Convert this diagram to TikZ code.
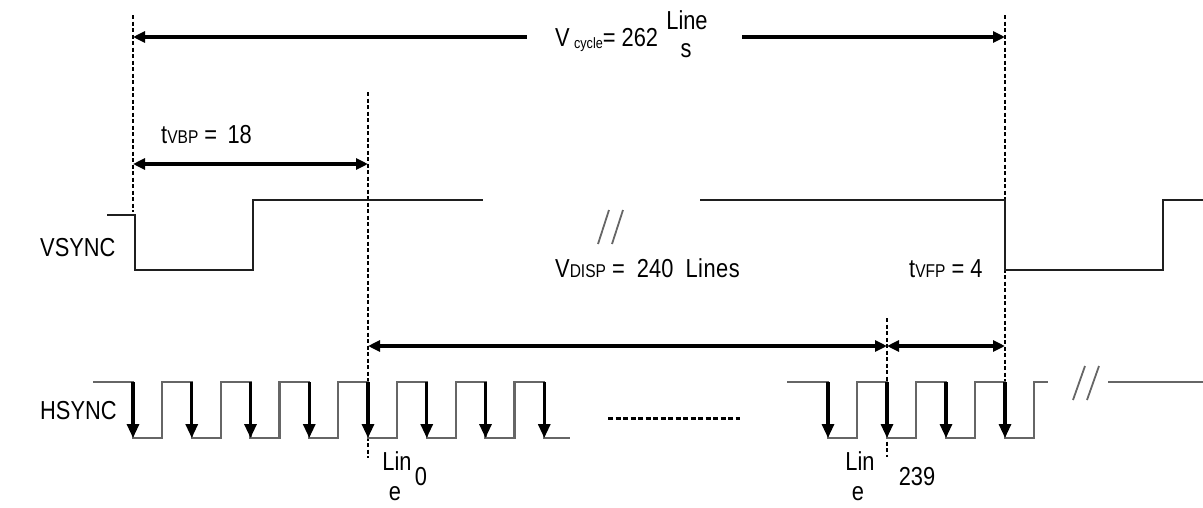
\documentclass[tikz,border=0pt]{standalone}
\usepackage{fontspec}
\setmainfont{Liberation Sans}[FakeStretch=0.84]
\usetikzlibrary{arrows.meta}
\newcommand\bigf{\fontsize{26}{31}\selectfont}
\newcommand\smallf{\fontsize{18.5}{22}\selectfont}
\newcommand\tinyf{\fontsize{15}{17}\selectfont}
\begin{document}
\begin{tikzpicture}[x=1pt,y=-1pt,
  wave/.style={line width=2.1pt, draw=black!60},
  vwave/.style={line width=2.2pt, draw=black!88},
  guide/.style={line width=1.6pt, dash pattern=on 4pt off 2.5pt},
  dim/.style={line width=3.3pt, {Triangle[length=12pt,width=11pt]}-{Triangle[length=12pt,width=11pt]}},
  dimr/.style={line width=3.3pt, -{Triangle[length=12pt,width=11pt]}},
  diml/.style={line width=3.3pt, {Triangle[length=12pt,width=11pt]}-},
  hs/.style={line width=3.1pt, -{Triangle[length=14pt,width=12pt]}},
  lbl/.style={inner sep=0pt, font=\bigf},
  brk/.style={line width=1.8pt, draw=black!60},
  dots/.style={line width=3pt, dash pattern=on 5pt off 2.5pt},
]
\useasboundingbox (0,0) rectangle (1203,507);

% guide coordinates
\coordinate (g1t) at (133,15);  \coordinate (g1b) at (133,212);
\coordinate (g2t) at (368,92);  \coordinate (g2b) at (368,458);
\coordinate (g3t) at (1005,15); \coordinate (g3b) at (1005,382);
\coordinate (g4t) at (887,318); \coordinate (g4b) at (887,457);
\draw[guide] (g1t) -- (g1b);
\draw[guide] (g2t) -- (g2b);
\draw[guide] (g3t) -- (g3b);
\draw[guide] (g4t) -- (g4b);

% V cycle
\coordinate (vcL) at (133,37); \coordinate (vcLe) at (527,37);
\coordinate (vcR) at (1005,37); \coordinate (vcRs) at (742,37);
\draw[diml] (vcL) -- (vcLe);
\draw[dimr] (vcRs) -- (vcR);
\node[lbl, anchor=base west] (vcyc) at (555,46) {V\,\raisebox{-2pt}{\tinyf cycle}= 262};
\node[lbl, anchor=base] (vcl1) at (687,29) {Line};
\node[lbl, anchor=base] (vcl2) at (686,57) {s};

% tVBP
\coordinate (bpL) at (133,164); \coordinate (bpR) at (368,164);
\draw[dim] (bpL) -- (bpR);
\node[lbl, anchor=base west] (tvbp) at (161,143) {t{\smallf VBP} =\ \,18};

% VSYNC
\node[lbl, anchor=base west] (vsync) at (40,256) {VSYNC};
\draw[vwave] (107,215) -- (135,215) -- (135,270) -- (253,270) -- (253,200) -- (483,200);
\draw[vwave] (700,200) -- (1005,200) -- (1005,270) -- (1163,270) -- (1163,200) -- (1203,200);
\draw[brk] (598,244) -- (609,210);
\draw[brk] (612,244) -- (623,210);

% VDISP / tVFP
\coordinate (dpL) at (368,346); \coordinate (dpR) at (887,346); \coordinate (fpR) at (1005,346);
\draw[dim] (dpL) -- (dpR);
\draw[dim] (dpR) -- (fpR);
\node[lbl, anchor=base west] (vdisp) at (555,277) {V{\smallf DISP} =\ \ 240\ \ L\kern0.5pt i\kern0.5pt n\kern0.5pt e\kern0.5pt s};
\node[lbl, anchor=base west] (tvfp) at (909,277) {t{\smallf VFP} = 4};

% HSYNC
\node[lbl, anchor=base west] (hsync) at (40,419) {HSYNC};
\draw[wave] (93,382)
  \foreach \k in {0,...,6} { -- ({133+58.75*\k},382) -- ({133+58.75*\k},438) -- ({162+58.75*\k},438) -- ({162+58.75*\k},382) }
  -- (544.25,382) -- (544.25,438) -- (570,438);
\foreach \k in {0,...,7} { \draw[hs] ({133+58.75*\k},382) -- ({133+58.75*\k},438); }
\draw[dots] (608,418) -- (740,418);
\draw[wave] (787,382)
  \foreach \k in {0,...,3} { -- ({828+59*\k},382) -- ({828+59*\k},438) -- ({857+59*\k},438) -- ({857+59*\k},382) }
  -- (1048,382);
\foreach \k in {0,...,3} { \draw[hs] ({828+59*\k},382) -- ({828+59*\k},438); }
\draw[brk] (1073,400) -- (1085,366);
\draw[brk] (1087,400) -- (1099,366);
\draw[wave] (1108,382) -- (1203,382);

% line labels
\node[lbl, anchor=base] (l0a) at (397,470) {Lin};
\node[lbl, anchor=base] (l0b) at (395,500) {e};
\node[lbl, anchor=base] (l0c) at (421,485) {0};
\node[lbl, anchor=base] (l1a) at (860,470) {Lin};
\node[lbl, anchor=base] (l1b) at (858,500) {e};
\node[lbl, anchor=base] (l1c) at (917,485) {239};
\end{tikzpicture}
\end{document}
